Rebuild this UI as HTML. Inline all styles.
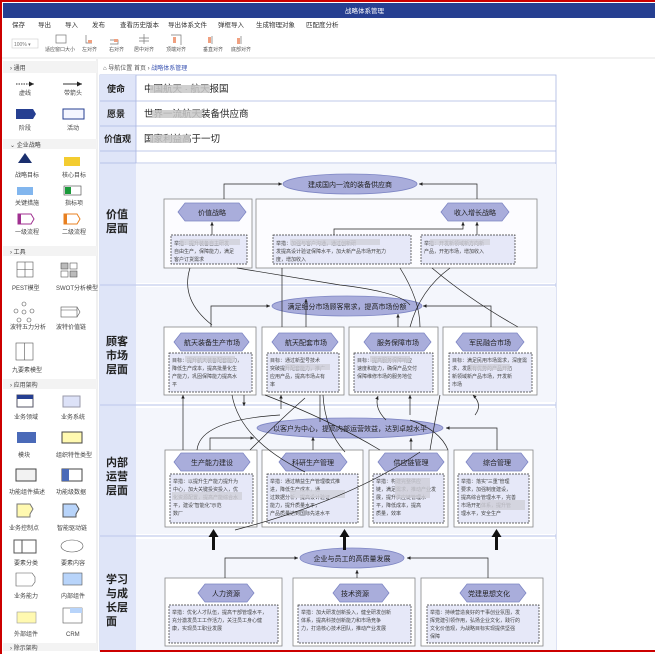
<!DOCTYPE html>
<html><head><meta charset="utf-8"><style>
html,body{margin:0;padding:0;background:#fff}
svg{display:block;font-family:"Liberation Sans","Noto Sans CJK SC",sans-serif}
</style></head><body>
<svg width="655" height="654" viewBox="0 0 655 654" xmlns="http://www.w3.org/2000/svg">
<defs>
<marker id="a" markerWidth="6" markerHeight="6" refX="5" refY="3" orient="auto"><path d="M0,0.5 L5,3 L0,5.5z" fill="#222"/></marker>
</defs>
<rect x="0" y="0" width="655" height="654" fill="#fff"/>
<line x1="0" y1="1" x2="655" y2="1" stroke="#c00" stroke-width="2"/>
<!-- header -->
<rect x="3" y="3" width="652" height="15" fill="#263f91"/>
<text x="345" y="13" font-size="6.5" fill="#fff">战略体系管理</text>
<g font-size="6.5" fill="#333">
<text x="12" y="27">保存</text><text x="38" y="27">导出</text><text x="65" y="27">导入</text><text x="92" y="27">发布</text><text x="120" y="27">查看历史版本</text><text x="168" y="27">导出体系文件</text><text x="218" y="27">弹框导入</text><text x="256" y="27">生成物理对象</text><text x="306" y="27">匹配度分析</text>
</g>
<rect x="12" y="39" width="26" height="9" fill="#fff" stroke="#ccc" stroke-width="0.6"/><text x="14" y="46" font-size="5" fill="#777">100% ▾</text>
<g font-size="5" fill="#555" stroke="none">
<text x="45" y="51">适应窗口大小</text><text x="82" y="51">左对齐</text><text x="109" y="51">右对齐</text><text x="134" y="51">居中对齐</text><text x="166" y="51">顶端对齐</text><text x="203" y="51">垂直对齐</text><text x="231" y="51">底部对齐</text>
</g>
<g fill="none" stroke="#777" stroke-width="0.7">
<rect x="56" y="35" width="10" height="8"/><path d="M86 35v8h6M110 40h8v4h-8M144 34v10M139 38h10M139 41h10M171 35h10v10M212 36v8M241 36v8"/>
</g>
<g fill="#f0a080"><rect x="88" y="40" width="4" height="3"/><rect x="114" y="39" width="4" height="3"/><rect x="173" y="37" width="3" height="6"/><rect x="208" y="37" width="3" height="6"/><rect x="237" y="38" width="3" height="6"/></g>
<line x1="0" y1="58" x2="655" y2="58" stroke="#e3e3e3"/>
<!-- left panel -->
<rect x="3" y="59" width="94" height="592" fill="#fff"/>
<line x1="97" y1="59" x2="97" y2="651" stroke="#e0e0e0"/>
<g font-size="6" fill="#444">
<rect x="3" y="61" width="94" height="12" fill="#f3f3f3"/><text x="10" y="70">›  通用</text>
<line x1="16" y1="84" x2="34" y2="84" stroke="#333" stroke-dasharray="1.5,1" marker-end="url(#a)"/>
<line x1="63" y1="84" x2="82" y2="84" stroke="#333" marker-end="url(#a)"/>
<text x="19" y="95">虚线</text><text x="64" y="95">带箭头</text>
<path d="M16 109h17l3 5l-3 5h-17z" fill="#263f91"/><rect x="63" y="109" width="21" height="10" fill="#f4f6ff" stroke="#263f91"/>
<text x="19" y="130">阶段</text><text x="67" y="130">活动</text>
<rect x="3" y="139" width="94" height="10" fill="#f3f3f3"/><text x="10" y="147">⌄  企业战略</text>
<path d="M25 153l7 10h-14z" fill="#1a2f6e"/><rect x="64" y="157" width="16" height="9" fill="#f3cc30"/>
<text x="15" y="177">战略目标</text><text x="62" y="177">核心目标</text>
<rect x="17" y="187" width="16" height="8" fill="#82b6ee"/><rect x="64" y="186" width="17" height="9" fill="#fff" stroke="#444" stroke-width="0.6"/><rect x="65" y="187" width="6" height="7" fill="#1a9a3a"/>
<text x="15" y="205">关键措施</text><text x="65" y="205">指标项</text>
<path d="M18 214h13l3 5l-3 5h-13z" fill="#fff" stroke="#a03090"/><rect x="18" y="214" width="3" height="10" fill="#a03090"/>
<path d="M64 214h13l3 5l-3 5h-13z" fill="#fff" stroke="#e88020"/><rect x="64" y="214" width="3" height="10" fill="#e88020"/>
<text x="15" y="234">一级流程</text><text x="62" y="234">二级流程</text>
<rect x="3" y="246" width="94" height="10" fill="#f3f3f3"/><text x="10" y="254">›  工具</text>
<g fill="none" stroke="#555" stroke-width="0.6"><rect x="17" y="262" width="16" height="15"/><path d="M25 262v15M17 269.5h16"/><rect x="61" y="263" width="7" height="6" fill="#bbb"/><rect x="70" y="263" width="7" height="6"/><rect x="61" y="271" width="7" height="6"/><rect x="70" y="271" width="7" height="6" fill="#bbb"/>
<circle cx="24" cy="304" r="2"/><circle cx="16" cy="311" r="2"/><circle cx="32" cy="311" r="2"/><circle cx="19" cy="320" r="2"/><circle cx="29" cy="320" r="2"/><circle cx="24" cy="312" r="2"/>
<rect x="61" y="307" width="16" height="10"/><path d="M77 307l3 5l-3 5M61 310h16"/>
<rect x="16" y="343" width="17" height="17"/><path d="M24.5 343v17"/></g>
<text x="12" y="290">PEST模型</text><text x="56" y="290">SWOT分析模型</text>
<text x="10" y="329">波特五力分析</text><text x="56" y="329">波特价值链</text>
<text x="12" y="372">九要素模型</text>
<rect x="3" y="379" width="94" height="10" fill="#f3f3f3"/><text x="10" y="387">›  应用架构</text>
<rect x="17" y="395" width="16" height="12" fill="#fff" stroke="#556"/><rect x="17" y="395" width="16" height="4" fill="#263f91"/>
<rect x="63" y="396" width="17" height="11" fill="#dde2f8" stroke="#99a"/>
<text x="14" y="419">业务领域</text><text x="61" y="419">业务系统</text>
<rect x="17" y="432" width="19" height="11" fill="#4a6ab8"/><rect x="62" y="432" width="20" height="11" fill="#fff9b0" stroke="#444"/>
<text x="18" y="457">模块</text><text x="56" y="457">组织特性类型</text>
<rect x="16" y="469" width="20" height="12" fill="#f2f2f2" stroke="#444"/><rect x="62" y="469" width="20" height="12" fill="#fff" stroke="#444"/><rect x="62" y="469" width="7" height="12" fill="#4a6ab8"/>
<text x="9" y="494">功能组件描述</text><text x="56" y="494">功能级数据</text>
<path d="M17 504h13l3 5l-3 5l0 3h-13z" fill="#fff9b0" stroke="#777"/><path d="M63 504h13l3 5l-3 5l0 3h-13z" fill="#b8d4fa" stroke="#555"/>
<text x="9" y="530">业务控制点</text><text x="57" y="530">智能驱动链</text>
<rect x="14" y="540" width="22" height="13" fill="#fff" stroke="#555"/><line x1="22" y1="540" x2="22" y2="553" stroke="#555"/><ellipse cx="72" cy="546" rx="11" ry="6" fill="#fff" stroke="#555" stroke-width="0.6"/>
<text x="14" y="565">要素分类</text><text x="61" y="565">要素内容</text>
<path d="M16 573h16l3 4v5l-3 4h-16z" fill="#fff" stroke="#555" stroke-width="0.6"/><rect x="63" y="573" width="19" height="12" fill="#b8d4fa" stroke="#555" stroke-width="0.6"/>
<text x="14" y="598">业务能力</text><text x="61" y="598">内部组件</text>
<rect x="17" y="612" width="19" height="11" fill="#fff9b0" stroke="#999" stroke-width="0.6"/><rect x="63" y="608" width="19" height="15" fill="#fff" stroke="#555" stroke-width="0.6"/><rect x="70" y="608" width="12" height="5" fill="#b8d4fa"/>
<text x="14" y="636">外部组件</text><text x="66" y="636">CRM</text>
<rect x="3" y="643" width="94" height="8" fill="#f3f3f3"/><text x="10" y="650">›  除示架构</text>
</g>
<!-- breadcrumb -->
<text x="103" y="70" font-size="6" fill="#555">⌂ 导航位置 首页 › <tspan fill="#3650b0">战略体系管理</tspan></text>
<!-- table -->
<g stroke="#aab6e2" stroke-width="0.8">
<rect x="100" y="75" width="456" height="576" fill="#fff"/>
<rect x="100" y="75" width="36" height="576" fill="#dfe5f8" stroke="none"/>
<line x1="100" y1="101" x2="556" y2="101"/><line x1="100" y1="126" x2="556" y2="126"/><line x1="100" y1="151" x2="556" y2="151"/><line x1="100" y1="163" x2="556" y2="163"/>
<line x1="136" y1="75" x2="136" y2="163"/>
</g>
<rect x="136" y="164" width="420" height="119" fill="#f4f6fc"/>
<rect x="136" y="287" width="420" height="115" fill="#f4f6fc"/>
<rect x="136" y="408" width="420" height="126" fill="#f4f6fc"/>
<rect x="136" y="539" width="420" height="111" fill="#f4f6fc"/>
<g stroke="#c4cdee" stroke-width="1.2"><line x1="100" y1="285" x2="556" y2="285"/><line x1="100" y1="405" x2="556" y2="405"/><line x1="100" y1="536" x2="556" y2="536"/></g>
<line x1="100" y1="651" x2="655" y2="651" stroke="#c00" stroke-width="2"/>
<line x1="1" y1="0" x2="1" y2="654" stroke="#c00" stroke-width="2"/>
<g font-size="9" fill="#222" font-weight="bold">
<text x="107" y="92">使命</text><text x="107" y="117">愿景</text><text x="104" y="142">价值观</text>
</g>
<g font-size="9.5" fill="#222">
<text x="144" y="92">中国航天 · 航天报国</text><text x="144" y="117">世界一流航天装备供应商</text><text x="144" y="142">国家利益高于一切</text>
</g>
<g fill="#c8c8c8" opacity="0.85"><rect x="150" y="85" width="60" height="8"/><rect x="152" y="110" width="50" height="8"/><rect x="150" y="135" width="40" height="8"/></g>
<g font-size="11" font-weight="bold" fill="#222">
<text x="106" y="218">价值</text><text x="106" y="232">层面</text>
<text x="106" y="345">顾客</text><text x="106" y="359">市场</text><text x="106" y="373">层面</text>
<text x="106" y="466">内部</text><text x="106" y="480">运营</text><text x="106" y="494">层面</text>
<text x="106" y="583">学习</text><text x="106" y="597">与成</text><text x="106" y="611">长层</text><text x="106" y="625">面</text>
</g>
<!-- diagram -->
<g stroke="#888" fill="#fff" stroke-width="0.8">
<rect x="164" y="199" width="88" height="69" fill="#fcfcff"/><rect x="256" y="199" width="281" height="69" fill="#fcfcff"/>
<rect x="164" y="327" width="92" height="68"/><rect x="262" y="327" width="82" height="68"/><rect x="349" y="327" width="89" height="68"/><rect x="443" y="327" width="94" height="68"/>
<rect x="165" y="450" width="92" height="77"/><rect x="262" y="450" width="101" height="77"/><rect x="369" y="450" width="79" height="77"/><rect x="454" y="450" width="79" height="77"/>
<rect x="165" y="578" width="117" height="68"/><rect x="293" y="578" width="122" height="68"/><rect x="421" y="578" width="122" height="68"/>
</g>
<g fill="#e6e8f8" stroke="#333" stroke-width="0.7" stroke-dasharray="2,1">
<rect x="171" y="235" width="76" height="29"/><rect x="273" y="235" width="138" height="29"/><rect x="421" y="235" width="94" height="29"/>
<rect x="169" y="353" width="83" height="39"/><rect x="267" y="353" width="72" height="39"/><rect x="354" y="353" width="79" height="39"/><rect x="449" y="353" width="83" height="39"/>
<rect x="170" y="474" width="83" height="49"/><rect x="267" y="474" width="91" height="49"/><rect x="373" y="474" width="71" height="49"/><rect x="458" y="474" width="71" height="49"/>
<rect x="169" y="605" width="109" height="38"/><rect x="298" y="605" width="113" height="38"/><rect x="427" y="605" width="112" height="38"/>
</g>
<g fill="#a9addb" stroke="#7e86c4" stroke-width="0.8">
<ellipse cx="350" cy="184" rx="67" ry="10"/><ellipse cx="347" cy="306" rx="75" ry="10"/><ellipse cx="350" cy="428" rx="93" ry="10"/><ellipse cx="352" cy="558" rx="52" ry="10"/>
<path d="M178 212l7-9h54l7 9l-7 9h-54z"/><path d="M441 212l7-9h54l7 9l-7 9h-54z"/>
<path d="M174 342l7-9h61l7 9l-7 9h-61z"/><path d="M272 342l7-9h52l7 9l-7 9h-52z"/><path d="M364 342l7-9h53l7 9l-7 9h-53z"/><path d="M456 342l7-9h54l7 9l-7 9h-54z"/>
<path d="M174 462l7-9h62l7 9l-7 9h-62z"/><path d="M279 462l7-9h54l7 9l-7 9h-54z"/><path d="M378 462l7-9h52l7 9l-7 9h-52z"/><path d="M466 462l7-9h48l7 9l-7 9h-48z"/>
<path d="M198 593l7-9h42l7 9l-7 9h-42z"/><path d="M333 593l7-9h42l7 9l-7 9h-42z"/><path d="M460 593l7-9h52l7 9l-7 9h-52z"/>
</g>
<g font-size="7" fill="#222" text-anchor="middle">
<text x="350" y="187">建成国内一流的装备供应商</text><text x="347" y="309">满足细分市场顾客需求，提高市场份额</text><text x="350" y="431">以客户为中心，提高内部运营效益，达到卓越水平</text><text x="352" y="561">企业与员工的高质量发展</text>
<text x="212" y="215">价值战略</text><text x="475" y="215">收入增长战略</text>
<text x="212" y="345">航天装备生产市场</text><text x="306" y="345">航天配套市场</text><text x="398" y="345">服务保障市场</text><text x="490" y="345">军民融合市场</text>
<text x="212" y="465">生产能力建设</text><text x="313" y="465">科研生产管理</text><text x="411" y="465">供应链管理</text><text x="497" y="465">综合管理</text>
<text x="226" y="596">人力资源</text><text x="355" y="596">技术资源</text><text x="489" y="596">党建思想文化</text>
</g>
<g font-size="5" fill="#444">
<text x="174" y="245">举措：提升装备自主研发</text><text x="174" y="253">自由生产，保障能力，满足</text><text x="174" y="261">客户订货需求</text>
<text x="276" y="245">举措：加强与客户沟通，通过创新研</text><text x="276" y="253">发提高设计验证保障水平，加大新产品市场开拓力</text><text x="276" y="261">度，增加收入</text>
<text x="424" y="245">举措：开发新领域新方向新</text><text x="424" y="253">产品，开拓市场，增加收入</text>
<text x="172" y="362">目标：提升航天装备配套能力，</text><text x="172" y="370">降低生产成本，提高批量化生</text><text x="172" y="378">产能力，巩固保障能力提高水</text><text x="172" y="386">平</text>
<text x="270" y="362">目标：通过新型号技术</text><text x="270" y="370">突破提升配套能力，推广</text><text x="270" y="378">应用产品，提高市场占有</text><text x="270" y="386">率</text>
<text x="357" y="362">目标：提高服务保障响应</text><text x="357" y="370">速度和能力，确保产品交付</text><text x="357" y="378">保障维修市场的服务地位</text>
<text x="452" y="362">目标：满足民用市场需求，深度需</text><text x="452" y="370">求，发展有优势的产品开拓</text><text x="452" y="378">新领域新产品市场，开发新</text><text x="452" y="386">市场</text>
<text x="173" y="483">举措：以提升生产能力提升为</text><text x="173" y="491">中心，加大关键投资投入，优</text><text x="173" y="499">化资源配置，提高产能综合水</text><text x="173" y="507">平，建设"智能化"示范</text><text x="173" y="515">数厂</text>
<text x="270" y="483">举措：通过精益生产管理模式推</text><text x="270" y="491">进，降低生产成本，通</text><text x="270" y="499">过数据分析，提高设计验证</text><text x="270" y="507">能力，提升质量水平，</text><text x="270" y="515">产品质量达到国际先进水平</text>
<text x="376" y="483">举措：构建完整供应</text><text x="376" y="491">链，满足需求，推动产业发</text><text x="376" y="499">展，提升供应链管理水</text><text x="376" y="507">平，降低成本，提高</text><text x="376" y="515">质量，效率</text>
<text x="461" y="483">举措：落实"三重"管理</text><text x="461" y="491">要求，加强制度建设，</text><text x="461" y="499">提高综合管理水平，完善</text><text x="461" y="507">市场开拓体系，提升管</text><text x="461" y="515">理水平，安全生产</text>
<text x="172" y="614">举措：优化人才队伍，提高干部管理水平，</text><text x="172" y="622">充分激发员工工作活力，关注员工身心健</text><text x="172" y="630">康，实现员工职业发展</text>
<text x="301" y="614">举措：加大研发创新投入，健全研发创新</text><text x="301" y="622">体系，提高科技创新能力和市场竞争</text><text x="301" y="630">力，打造核心技术团队，推动产业发展</text>
<text x="430" y="614">举措：持续营造良好的干事创业氛围，发</text><text x="430" y="622">挥党建引领作用，弘扬企业文化，践行的</text><text x="430" y="630">文化价值观，为战略目标实现提供坚强</text><text x="430" y="638">保障</text>
</g>
<g fill="#cfcfd8" opacity="0.8"><rect x="180" y="239" width="60" height="6"/><rect x="290" y="239" width="90" height="6"/><rect x="430" y="239" width="60" height="6"/><rect x="185" y="356" width="50" height="6"/><rect x="285" y="364" width="45" height="6"/><rect x="370" y="356" width="40" height="6"/><rect x="470" y="364" width="40" height="6"/><rect x="172" y="492" width="70" height="8"/><rect x="290" y="490" width="55" height="8"/><rect x="395" y="478" width="35" height="20"/><rect x="480" y="500" width="45" height="10"/></g>
<!-- connectors -->
<g fill="none" stroke="#222" stroke-width="0.7" marker-end="url(#a)">
<path d="M224 199V184H282"/><path d="M477 199V184H419"/><path d="M212 235V222"/><path d="M334 235V229H463V222"/><path d="M477 235V222"/>
<path d="M211 327V306H270"/><path d="M306 327V299"/><path d="M398 327V314"/><path d="M491 327V306H423"/>
<path d="M183 450V395"/><path d="M210 450V438H254"/><path d="M313 450V437"/><path d="M411 450V438"/><path d="M497 450V428H446"/>
<path d="M244 395V406"/><path d="M281 409V395"/><path d="M386 420Q374 408 378 396"/><path d="M410 415V395"/><path d="M475 415Q483 405 473 395"/>
<path d="M225 578V558H298"/><path d="M357 578V570"/><path d="M488 578V558H407"/>
</g>
<g fill="none" stroke="#222" stroke-width="0.7">
<path d="M190 268Q180 300 212 325"/><path d="M237 268L340 285Q400 292 410 305"/><path d="M282 268V327"/><path d="M400 268Q420 300 420 327"/><path d="M450 268Q420 290 410 327"/><path d="M432 268Q470 300 518 327"/>
<path d="M232 395Q240 440 305 472"/><path d="M265 395Q330 420 380 450"/><path d="M320 395V422"/><path d="M323 395Q325 430 345 452"/><path d="M197 450Q200 420 280 415"/><path d="M250 450Q280 420 305 398"/><path d="M430 450Q435 420 440 395"/><path d="M235 530Q350 500 420 452"/><path d="M448 450Q440 430 410 420"/>
</g>
<g fill="#111">
<rect x="212" y="536" width="3" height="14"/><path d="M208.5 537l5-8l5 8z"/>
<rect x="343" y="536" width="3" height="14"/><path d="M339.5 537l5-8l5 8z"/>
<rect x="495" y="536" width="3" height="14"/><path d="M491.5 537l5-8l5 8z"/>
</g>
</svg>
</body></html>
